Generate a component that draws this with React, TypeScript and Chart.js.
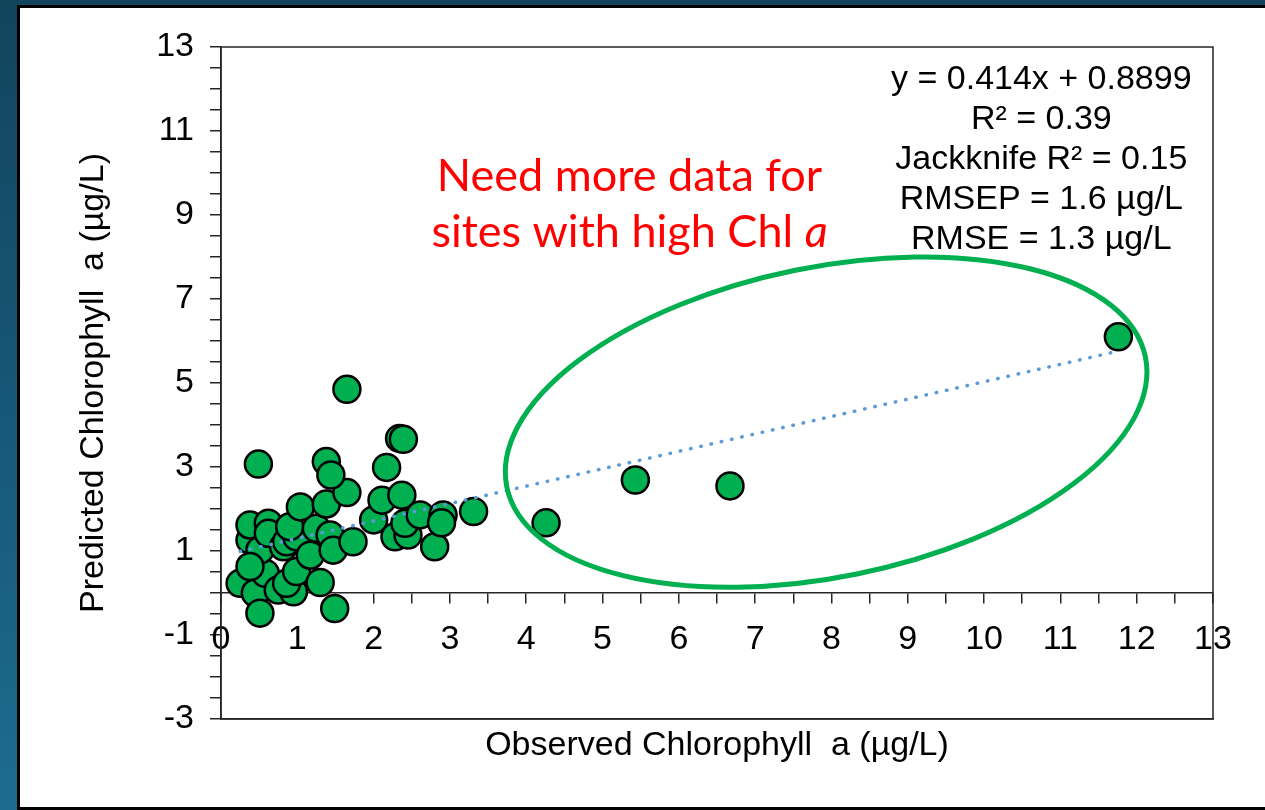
import React, { useEffect, useRef } from 'react';
import { Chart, registerables } from 'chart.js';

Chart.register(...registerables);

// ---------- data ----------
const observed = [
  0.25, 0.45, 0.58, 0.75, 0.95, 0.86, 0.99, 1.30, 0.38, 0.51,
  0.38, 0.62, 0.38, 0.62, 0.82, 0.86, 0.99, 0.90, 1.17, 1.25,
  1.43, 1.47, 1.73, 1.04, 1.38, 2.00, 2.11, 2.37, 2.28, 2.45,
  2.41, 2.80, 2.61, 2.91, 2.89, 3.31, 1.65, 1.38, 1.44, 2.17,
  0.49, 1.65, 2.34, 2.39, 1.49, 0.51, 4.26, 5.43, 6.67, 11.76,
];
const predicted = [
  0.23, 0.00, 0.47, 0.07, 0.03, 0.23, 0.51, 0.25, 1.26, 1.02,
  1.62, 1.66, 0.63, 1.42, 1.10, 1.22, 1.34, 1.58, 0.90, 1.54,
  1.38, 1.02, 1.22, 2.05, 2.12, 1.74, 2.21, 2.33, 1.34, 1.38,
  1.66, 1.10, 1.86, 1.86, 1.67, 1.94, 2.39, 3.13, 2.81, 2.99,
  3.07, 4.85, 3.68, 3.66, -0.37, -0.48, 1.67, 2.69, 2.55, 6.10,
];
const trendX = [0.25, 11.76];
const trendY = [0.99, 5.76];

const xTickLabels = ['0', '1', '2', '3', '4', '5', '6', '7', '8', '9', '10', '11', '12', '13'];
const yTickLabels = ['-3', '-1', '1', '3', '5', '7', '9', '11', '13'];

const xTitle = 'Observed Chlorophyll  a (µg/L)';
const yTitle = 'Predicted Chlorophyll  a (µg/L)';

const statsLines = [
  'y = 0.414x + 0.8899',
  'R² = 0.39',
  'Jackknife R² = 0.15',
  'RMSEP = 1.6 µg/L',
  'RMSE = 1.3 µg/L',
];
const noteLine1 = 'Need more data for';
const noteLine2 = 'sites with high Chl ';
const noteItalic = 'a';

// ---------- styling / placement (not data) ----------
const FONT = '"Liberation Sans", Arial, sans-serif';
const NOTE_FONT = 'Lato, "Open Sans", sans-serif';
const AXIS = '#262626';
const GREEN = '#00b050';
const ELLIPSE = { cx: 7.93, cy: 4.07, rx: 4.27, ry: 3.69, rotationDeg: -11.5 };
const STATS_ANCHOR = { x: 10.75, y: 12.23 };
const STATS_STEP = 40;
const NOTE_ANCHOR = { x: 5.354, y1: 9.58, y2: 8.23 };

const framePlugin = {
  id: 'frame',
  beforeDatasetsDraw(chart: any) {
    const { ctx, chartArea } = chart;
    ctx.save();
    ctx.strokeStyle = AXIS;
    ctx.lineWidth = 1.5;
    ctx.strokeRect(chartArea.left, chartArea.top, chartArea.right - chartArea.left, chartArea.bottom - chartArea.top);
    ctx.restore();
  },
};

const annotationPlugin = {
  id: 'annotations',
  afterDatasetsDraw(chart: any) {
    const { ctx } = chart;
    const xs = chart.scales.x;
    const ys = chart.scales.y;
    ctx.save();
    // ellipse
    const cx = xs.getPixelForValue(ELLIPSE.cx);
    const cy = ys.getPixelForValue(ELLIPSE.cy);
    const rx = Math.abs(xs.getPixelForValue(ELLIPSE.cx + ELLIPSE.rx) - cx);
    const ry = Math.abs(ys.getPixelForValue(ELLIPSE.cy + ELLIPSE.ry) - cy);
    ctx.beginPath();
    ctx.ellipse(cx, cy, rx, ry, (ELLIPSE.rotationDeg * Math.PI) / 180, 0, Math.PI * 2);
    ctx.strokeStyle = GREEN;
    ctx.lineWidth = 5;
    ctx.stroke();

    // stats text
    ctx.fillStyle = '#000';
    ctx.font = `34px ${FONT}`;
    ctx.textAlign = 'center';
    ctx.textBaseline = 'middle';
    const sx = xs.getPixelForValue(STATS_ANCHOR.x);
    const sy = ys.getPixelForValue(STATS_ANCHOR.y);
    statsLines.forEach((t, i) => ctx.fillText(t, sx, sy + i * STATS_STEP));

    // red note
    ctx.fillStyle = '#ff0000';
    ctx.textBaseline = 'alphabetic';
    const nx = xs.getPixelForValue(NOTE_ANCHOR.x);
    ctx.font = `45px ${NOTE_FONT}`;
    ctx.textAlign = 'center';
    ctx.fillText(noteLine1, nx, ys.getPixelForValue(NOTE_ANCHOR.y1));
    ctx.textAlign = 'left';
    const w1 = ctx.measureText(noteLine2).width;
    ctx.font = `italic 45px ${NOTE_FONT}`;
    const w2 = ctx.measureText(noteItalic).width;
    const start = nx - (w1 + w2) / 2;
    const by = ys.getPixelForValue(NOTE_ANCHOR.y2);
    ctx.font = `45px ${NOTE_FONT}`;
    ctx.fillText(noteLine2, start, by);
    ctx.font = `italic 45px ${NOTE_FONT}`;
    ctx.fillText(noteItalic, start + w1, by);
    ctx.restore();
  },
};

export default function App() {
  const ref = useRef<HTMLCanvasElement | null>(null);

  useEffect(() => {
    if (!ref.current) return;
    const points = observed.map((x, i) => ({ x, y: predicted[i] }));
    const trend = trendX.map((x, i) => ({ x, y: trendY[i] }));
    const tickFont = { family: FONT, size: 34 };
    const chart = new Chart(ref.current, {
      type: 'scatter',
      data: {
        datasets: [
          {
            type: 'line',
            data: trend,
            borderColor: '#5b9bd5',
            borderWidth: 3.5,
            borderDash: [0.5, 10],
            borderCapStyle: 'round',
            pointRadius: 0,
            fill: false,
            xAxisID: 'x',
            yAxisID: 'y',
          } as any,
          {
            data: points,
            backgroundColor: GREEN,
            borderColor: '#000',
            borderWidth: 2.5,
            pointRadius: 13.5,
            pointHoverRadius: 13.5,
            xAxisID: 'x',
            yAxisID: 'y',
          },
        ],
      },
      options: {
        animation: false,
        responsive: false,
        devicePixelRatio: 1,
        events: [],
        layout: { padding: { top: 47, right: 52, left: 0, bottom: 0 } },
        plugins: { legend: { display: false }, tooltip: { enabled: false } },
        scales: {
          x: {
            type: 'linear',
            position: { y: 0 } as any,
            min: 0,
            max: 13,
            ticks: {
              stepSize: 0.5,
              autoSkip: false,
              maxRotation: 0,
              color: '#000',
              font: tickFont,
              padding: 16,
              callback: (v: any) => (xTickLabels.includes(String(v)) ? String(v) : ''),
            },
            grid: { display: true, drawOnChartArea: false, drawTicks: true, tickLength: 10, color: AXIS, lineWidth: 1.5 },
            border: { display: true, color: AXIS, width: 1.5 },
          },
          x2: {
            type: 'linear',
            position: 'bottom',
            min: 0,
            max: 13,
            ticks: { display: false },
            grid: { display: false, drawTicks: false },
            border: { display: true, color: AXIS, width: 1.5 },
            title: { display: true, text: xTitle, color: '#000', font: tickFont, padding: { top: 0, bottom: 44 } },
            afterFit: (s: any) => { s.height = 91; },
          },
          y: {
            type: 'linear',
            position: 'left',
            min: -3,
            max: 13,
            ticks: {
              stepSize: 0.5,
              autoSkip: false,
              color: '#000',
              font: tickFont,
              padding: 16,
              callback: (v: any) => (yTickLabels.includes(String(v)) ? String(v) : ''),
            },
            grid: { display: true, drawOnChartArea: false, drawTicks: true, tickLength: 11, color: AXIS, lineWidth: 1.5 },
            border: { display: true, color: AXIS, width: 1.5 },
            title: { display: true, text: yTitle, color: '#000', font: tickFont, padding: { top: 73, bottom: 0 } },
            afterFit: (s: any) => { s.width = 221; },
          },
        },
      } as any,
      plugins: [framePlugin, annotationPlugin],
    });
    return () => chart.destroy();
  }, []);

  return (
    <div
      style={{
        position: 'fixed',
        left: 0,
        top: 0,
        width: 1265,
        height: 810,
        overflow: 'hidden',
        background: 'linear-gradient(180deg, #12445c 0%, #17597a 55%, #1d6c90 100%)',
      }}
    >
      <div
        style={{
          position: 'absolute',
          left: 17,
          top: 5,
          width: 1265 - 17 - 3 + 10,
          height: 810 - 5 - 6,
          border: '3px solid #000',
          background: '#fff',
        }}
      />
      <canvas ref={ref} width={1265} height={810} style={{ position: 'absolute', left: 0, top: 0, width: 1265, height: 810 }} />
    </div>
  );
}
